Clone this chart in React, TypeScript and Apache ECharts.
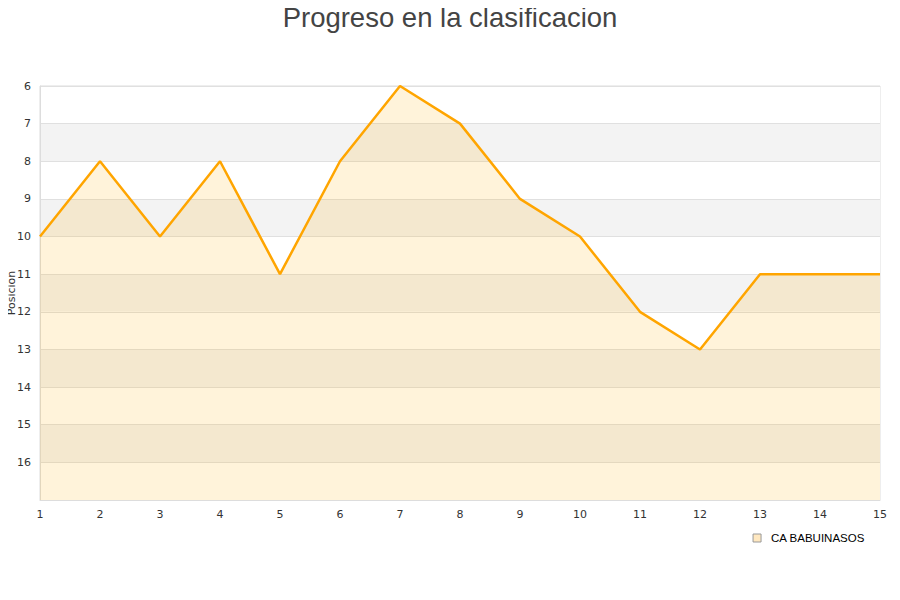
import React, { useEffect, useRef } from "react";
import * as echarts from "echarts";

const title = "Progreso en la clasificacion";
const seriesName = "CA BABUINASOS";
const jornadas = ["1", "2", "3", "4", "5", "6", "7", "8", "9", "10", "11", "12", "13", "14", "15"];
const posiciones = [10, 8, 10, 8, 11, 8, 6, 7, 9, 10, 12, 13, 11, 11, 11];
const yAxisName = "Posicion";

export default function App() {
  const ref = useRef<HTMLDivElement>(null);
  useEffect(() => {
    if (!ref.current) return;
    const chart = echarts.init(ref.current, null, { renderer: "svg" });
    chart.setOption({
      animation: false,
      backgroundColor: "#fff",
      title: {
        text: title,
        left: "center",
        top: -2,
        textStyle: { fontFamily: "Liberation Sans", fontSize: 27.5, fontWeight: "normal", color: "#444" },
      },
      grid: {
        left: 40,
        right: 20,
        top: 86,
        bottom: 100,
        show: true,
        borderColor: "#ddd",
        borderWidth: 1,
        containLabel: false,
        outerBoundsMode: "none",
      },
      legend: {
        right: 30,
        top: 527,
        icon: "rect",
        itemWidth: 8,
        itemHeight: 8,
        itemGap: 6,
        textStyle: { fontFamily: "Liberation Sans", fontSize: 11.5, color: "#000", padding: [0, 0, 0, 5] },
        data: [{ name: seriesName, itemStyle: { color: "#ffe8c0", borderColor: "#999", borderWidth: 1 } }],
      },
      xAxis: {
        type: "category",
        data: jornadas,
        boundaryGap: false,
        axisLine: { show: true, lineStyle: { color: "#ddd" } },
        axisTick: { show: false },
        axisLabel: { fontFamily: "DejaVu Sans", fontSize: 11, color: "#333", margin: 9 },
        splitLine: { show: false },
      },
      yAxis: {
        type: "value",
        inverse: true,
        min: 6,
        max: 17,
        interval: 1,
        name: yAxisName,
        nameLocation: "middle",
        nameGap: 23,
        nameMoveOverlap: false,
        nameTextStyle: { fontFamily: "DejaVu Sans", fontSize: 11, color: "#333" },
        axisLine: { show: true, lineStyle: { color: "#ddd" } },
        axisTick: { show: false },
        axisLabel: {
          fontFamily: "DejaVu Sans",
          fontSize: 11,
          color: "#333",
          margin: 9,
          formatter: (v: number) => (v === 17 ? "" : String(v)),
        },
        splitLine: { show: true, lineStyle: { color: "#e0e0e0", width: 1 } },
        splitArea: { show: true, areaStyle: { color: ["#ffffff", "#f3f3f3"] } },
      },
      series: [
        {
          name: seriesName,
          type: "line",
          data: posiciones,
          symbol: "none",
          lineStyle: { color: "#ffa500", width: 2.5 },
          itemStyle: { color: "#ffa500" },
          areaStyle: { origin: "end", color: "rgba(255,170,0,0.21)" },
        },
      ],
    });
    return () => chart.dispose();
  }, []);
  return <div ref={ref} style={{ width: 900, height: 600, margin: -8 }} />;
}
